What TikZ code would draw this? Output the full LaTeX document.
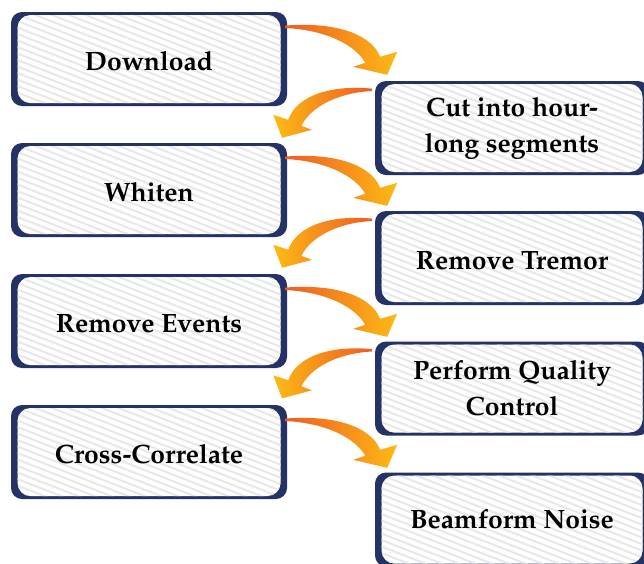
\documentclass[tikz,border=0pt]{standalone}
\usepackage[T1]{fontenc}
\renewcommand\rmdefault{ppl}
\usetikzlibrary{calc}

\definecolor{boxedge}{HTML}{243266}
\definecolor{stripe}{HTML}{E8E8E8}
\definecolor{arrowtail}{HTML}{EE5C24}
\definecolor{arrowmid}{HTML}{F6901E}
\definecolor{arrowhead}{HTML}{FDBA14}

\newcommand\boxfont{\fontsize{26.5}{36}\selectfont\bfseries}

\tikzset{
  stepbox/.style={
    rounded corners=11pt, fill=boxedge, minimum width=#1, minimum height=94pt,
    inner sep=0pt, align=center, font=\boxfont, text=black,
    path picture={
      \begin{scope}[rounded corners=13pt]
        \path[clip] ([xshift=6.5pt,yshift=-3pt]path picture bounding box.north west)
          rectangle ([xshift=-6.5pt,yshift=3pt]path picture bounding box.south east);
        \fill[white] (path picture bounding box.north west) rectangle (path picture bounding box.south east);
        \foreach \k in {-20,...,16}
          \draw[stripe, line width=2pt, sharp corners]
            ([yshift=-\k*6.5pt]path picture bounding box.north west) -- ++(300pt,-117pt);
      \end{scope}
    }
  },
  stepbox/.default=276pt,
  oneline/.style={text height=23.5pt},
  pics/flowarrow/.style 2 args={code={
    \shade[left color=#1, middle color=arrowmid, right color=#2]
      (0,-1.2) .. controls (45,-5) and (85,5) .. (95,30)
      -- (112,25) -- (102,48) -- (68,40) -- (80,36)
      .. controls (70,18) and (40,3) .. (0,1.2) -- cycle;
  }}
}

\begin{document}
\begin{tikzpicture}[x=1pt, y=-1pt]
  \useasboundingbox (0,0) rectangle (644,563);
  \clip (0,0) rectangle (644,563);

  % left column of steps
  \node[stepbox, oneline] (dl) at (149,59)  {Download};
  \node[stepbox, oneline] (wh) at (149,190) {Whiten};
  \node[stepbox, oneline] (ev) at (149,321) {Remove Events};
  \node[stepbox, oneline] (cc) at (149,452) {Cross-Correlate};

  % right column of steps
  \node[stepbox=274pt] (cut) at (512,128)   {Cut into hour-\\long segments};
  \node[stepbox=274pt, oneline] (tr)  at (512,258)   {Remove Tremor};
  \node[stepbox=274pt] (qc)  at (512,388.5) {Perform Quality\\Control};
  \node[stepbox=274pt] (bf)  at (512,519.5) {Beamform Noise};

  % curved arrows going right, from a left step to the next right step
  \foreach \src in {dl,wh,ev,cc}{
    \pic at ($(\src.north east)+(-2,15)$) {flowarrow={arrowtail}{arrowhead}};
  }

  % curved arrows going left, from a right step to the next left step
  \foreach \src in {cut,tr,qc}{
    \begin{scope}[shift={($(\src.north west)+(-3,9)$)}, x=-0.88pt]
      \pic at (0,0) {flowarrow={arrowhead}{arrowtail}};
    \end{scope}
  }
\end{tikzpicture}
\end{document}
